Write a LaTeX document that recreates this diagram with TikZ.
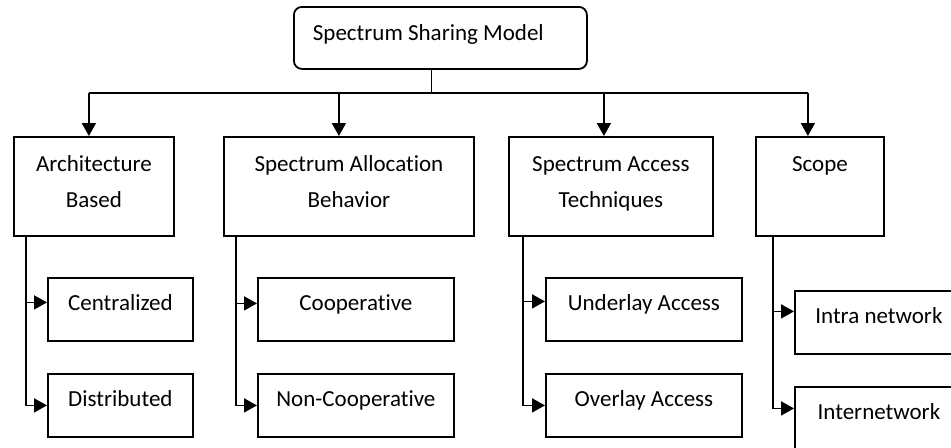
\documentclass[tikz,border=0pt]{standalone}
\usepackage{fontspec}
\setmainfont{Carlito}[Ligatures=NoCommon]
\usetikzlibrary{calc,arrows.meta,positioning}
\tikzset{
  box/.style={draw, line width=0.9pt, inner sep=0pt, align=center},
  topbox/.style={box, rounded corners=4pt, minimum width=146.5pt, inner xsep=9.5pt, text width=127.5pt, align=flush left, text height=17pt, text depth=14pt},
  catbox/.style={box, text height=35.5pt, text depth=14pt},
  leafbox/.style={box, text height=16.5pt, text depth=15pt},
  arr/.style={-{Triangle[length=6.5pt,width=7pt]}, line width=0.9pt}
}

\begin{document}
\begin{tikzpicture}[x=0.5pt, y=-0.5pt, font=\fontsize{11.5}{18}\selectfont]
\useasboundingbox (0,0) rectangle (951,447);
\clip (0,0) rectangle (951,447);
\node[topbox, anchor=north west] (ssm) at (293,6) {Spectrum Sharing Model};
% categories
\node[catbox, minimum width=80pt, anchor=north west] (arch) at (13,136) {Architecture\\Based};
\node[catbox, minimum width=125pt, anchor=north west] (alloc) at (223,136) {Spectrum Allocation\\Behavior};
\node[catbox, minimum width=102pt, anchor=north west] (access) at (508,136) {Spectrum Access\\Techniques};
\node[catbox, minimum width=64pt, anchor=north west] (scope) at (755,136) {Scope\\~};
% leaves
\node[leafbox, minimum width=72.5pt, anchor=north west] (cent) at (47,277) {Centralized};
\node[leafbox, minimum width=72.5pt, anchor=north west] (dist) at (47,373) {Distributed};
\node[leafbox, minimum width=98pt, anchor=north west] (coop) at (257,277) {Cooperative};
\node[leafbox, minimum width=98pt, anchor=north west] (noncoop) at (257,373) {Non-Cooperative};
\node[leafbox, minimum width=98pt, anchor=north west] (under) at (545,277) {Underlay Access};
\node[leafbox, minimum width=98pt, anchor=north west] (over) at (545,373) {Overlay Access};
\node[leafbox, minimum width=84pt, anchor=north west] (intra) at (794,290) {Intra network};
\node[leafbox, minimum width=84pt, anchor=north west] (inter) at (794,386) {Internetwork};
% bus
\coordinate (bus) at (0,93);
\coordinate (stem) at ($(ssm.south)+(-9,0)$);
\draw[line width=0.9pt] (stem) -- (stem |- bus);
\foreach \c/\dx in {arch/-5, alloc/-10, access/-7, scope/-12}
  \coordinate (\c-i) at ($(\c.north)+(\dx,0)$);
\draw[line width=0.9pt] (arch-i |- bus) -- (scope-i |- bus);
\foreach \c in {arch, alloc, access, scope}
  \draw[arr] (\c-i |- bus) -- (\c-i);
% trunks
\foreach \c/\a/\b/\dx/\ua/\ub in {arch/cent/dist/13/3.5/0, alloc/coop/noncoop/13/3/0, access/under/over/15/4/0, scope/intra/inter/18/5.5/5}{
  \coordinate (\c-t) at ($(\c.south west)+(\dx,0)$);
  \coordinate (\a-i) at ([yshift=\ua pt]\a.west);
  \coordinate (\b-i) at ([yshift=\ub pt]\b.west);
  \draw[arr] (\c-t) |- (\b-i);
  \draw[arr] (\c-t |- \a-i) -- (\a-i);
}
\end{tikzpicture}
\end{document}
